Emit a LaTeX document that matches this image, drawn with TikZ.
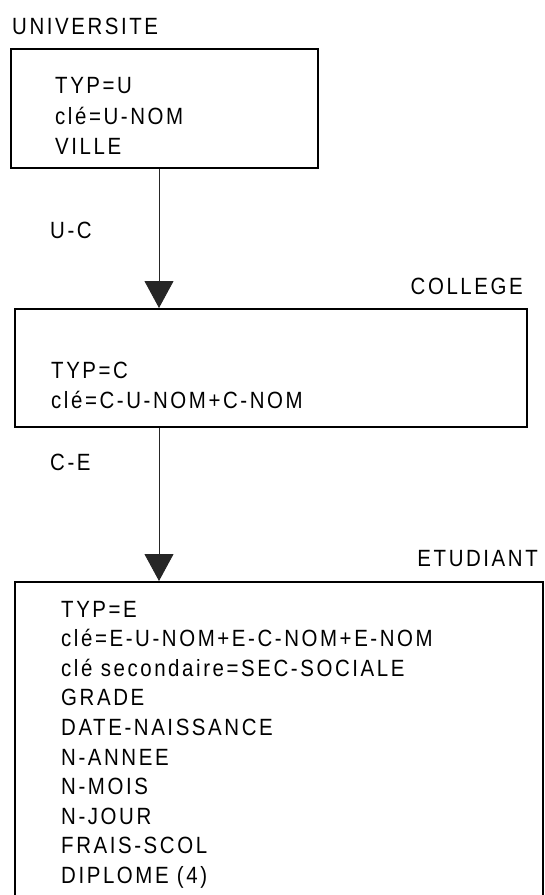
\documentclass[tikz,border=0pt]{standalone}
\usepackage{fontspec}
\newfontfamily\labfont[FakeStretch=0.87,LetterSpace=11]{Liberation Sans}
\usetikzlibrary{arrows.meta}
\tikzset{
  box/.style={draw=black, line width=2pt, rectangle, inner sep=0pt, anchor=north west, fill=none},
  txt/.style={anchor=base west, inner sep=0pt, font=\labfont\fontsize{23.5}{28}\selectfont},
  rtxt/.style={anchor=base east, inner sep=0pt, font=\labfont\fontsize{23.5}{28}\selectfont},
  conn/.style={draw=black!85, line width=0.9pt, -{Triangle[length=27pt,width=29pt]}}
}
\begin{document}
\begin{tikzpicture}[x=1pt,y=-1pt]
\useasboundingbox (0,0) rectangle (545,895);
\clip (0,0) rectangle (545,895);
% boxes
\node[box, minimum width=307pt, minimum height=119pt] (univ) at (10,48) {};
\node[box, minimum width=512pt, minimum height=118pt] (coll) at (14,308) {};
\node[box, minimum width=528pt, minimum height=340pt] (etud) at (14,581) {};
% titles
\node[txt] (tuniv) at (12,34) {UNIVERSITE};
\node[rtxt] (tcoll) at (523,294) {COLLEGE};
\node[rtxt] (tetud) at (538,566) {ETUDIANT};
% box 1 text
\node[txt] (u1) at (55,93) {TYP=U};
\node[txt] (u2) at (55,124) {clé=U-NOM};
\node[txt] (u3) at (55,154) {VILLE};
% box 2 text
\node[txt] (c1) at (51,378) {TYP=C};
\node[txt] (c2) at (51,408) {clé=C-U-NOM+C-NOM};
% box 3 text
\foreach \t [count=\i from 0] in {TYP=E,clé=E-U-NOM+E-C-NOM+E-NOM,clé secondaire=SEC-SOCIALE,GRADE,DATE-NAISSANCE,N-ANNEE,N-MOIS,N-JOUR,FRAIS-SCOL,DIPLOME (4)}
  \node[txt] (e\i) at (61,617+29.6*\i) {\t};
% connector labels
\node[txt] (luc) at (50,238) {U-C};
\node[txt] (lce) at (50,470) {C-E};
% connectors
\coordinate (ax) at (159,0);
\draw[conn] (univ.south -| ax) -- (coll.north -| ax);
\draw[conn] (coll.south -| ax) -- (etud.north -| ax);
\end{tikzpicture}
\end{document}
